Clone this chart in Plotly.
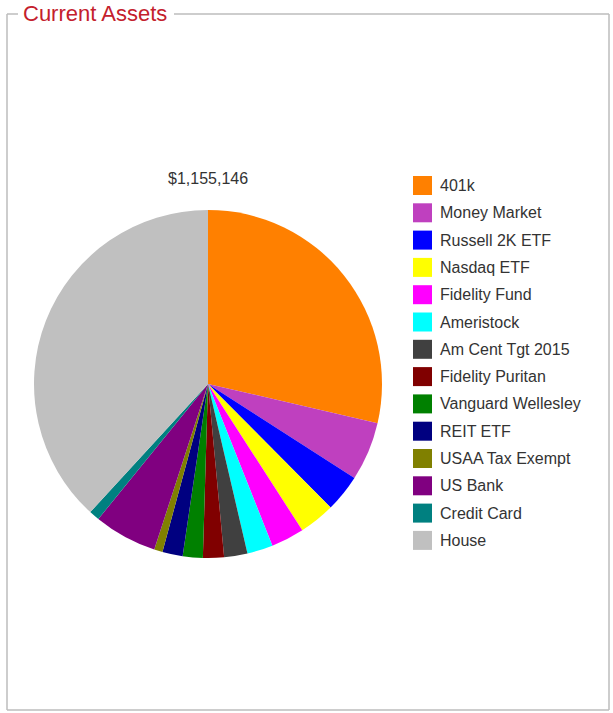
import plotly.graph_objects as go

# Asset holdings (USD)
labels = [
    "401k", "Money Market", "Russell 2K ETF", "Nasdaq ETF", "Fidelity Fund",
    "Ameristock", "Am Cent Tgt 2015", "Fidelity Puritan", "Vanguard Wellesley",
    "REIT ETF", "USAA Tax Exempt", "US Bank", "Credit Card", "House",
]
values = [
    330500, 63200, 40100, 38500, 35600,
    27600, 25000, 22500, 21500,
    21800, 9000, 67700, 11200, 440946,
]
colors = [
    "#FF8000", "#BF40BF", "#0000FF", "#FFFF00", "#FF00FF",
    "#00FFFF", "#404040", "#800000", "#008000",
    "#000080", "#808000", "#800080", "#008080", "#C0C0C0",
]

W, H = 613, 713


def px(x):
    return x / W


def py(y):
    return 1 - y / H


total = sum(values)

# Pie placement (pixel box)
cx, cy, r = 208, 384, 174

fig = go.Figure(
    go.Pie(
        labels=labels,
        values=values,
        marker=dict(colors=colors, line=dict(width=0)),
        sort=False,
        direction="clockwise",
        rotation=0,
        textinfo="none",
        hoverinfo="label+value+percent",
        showlegend=False,
        domain=dict(x=[px(cx - r), px(cx + r)], y=[py(cy + r), py(cy - r)]),
    )
)

shapes = []
annotations = []

# Fieldset-style frame with a gap for the caption
border = dict(color="#BDBDBD", width=1.5)
left, top, right, bottom = 7, 14, 609, 710
for (x0, y0, x1, y1) in [
    (left, top, left, bottom),
    (left, bottom, right, bottom),
    (right, top, right, bottom),
    (left, top, 18, top),
    (174, top, right, top),
]:
    shapes.append(dict(type="line", xref="paper", yref="paper",
                       x0=px(x0), y0=py(y0), x1=px(x1), y1=py(y1), line=border))

annotations.append(dict(
    text="Current Assets", xref="paper", yref="paper",
    x=px(21), y=py(14), xanchor="left", yanchor="middle", showarrow=False,
    font=dict(family="Arial, Liberation Sans", size=22, color="#C4202C"),
))

# Total above the pie
annotations.append(dict(
    text=f"${total:,.0f}", xref="paper", yref="paper",
    x=px(cx), y=py(178), xanchor="center", yanchor="middle", showarrow=False,
    font=dict(family="Arial, Liberation Sans", size=16, color="#333333"),
))

# Legend drawn as swatches + labels
lx, ly0, step, sw = 413, 176, 27.3, 19
for i, (lab, col) in enumerate(zip(labels, colors)):
    y0 = ly0 + i * step
    shapes.append(dict(type="rect", xref="paper", yref="paper",
                       x0=px(lx), x1=px(lx + sw), y0=py(y0 + sw), y1=py(y0),
                       fillcolor=col, line=dict(width=0)))
    annotations.append(dict(
        text=lab, xref="paper", yref="paper",
        x=px(lx + sw + 6), y=py(y0 + sw / 2), xanchor="left", yanchor="middle",
        showarrow=False,
        font=dict(family="Arial, Liberation Sans", size=16, color="#333333"),
    ))

fig.update_layout(
    width=W, height=H,
    margin=dict(l=0, r=0, t=0, b=0),
    paper_bgcolor="white", plot_bgcolor="white",
    shapes=shapes, annotations=annotations,
)

fig.write_html("out.html")
